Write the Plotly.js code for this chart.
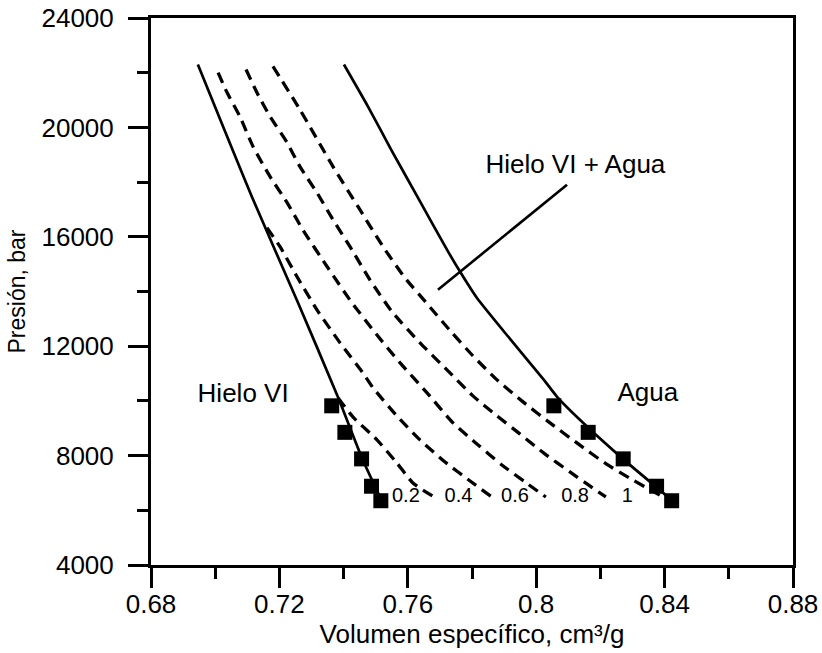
<!DOCTYPE html>
<html>
<head>
<meta charset="utf-8">
<script src="https://cdn.plot.ly/plotly-3.0.1.min.js"></script>
<style>html,body{margin:0;padding:0;background:#fff;}#chart{width:822px;height:653px;}</style>
</head>
<body>
<div id="chart"></div>
<script>
// Ice VI boundary (solid)
const iceV = [0.6946, 0.7118, 0.7258, 0.7382, 0.7457, 0.7513];
const iceP = [22300, 17360, 13590, 10150, 7920, 6490];
// Water boundary (solid)
const waterV = [0.7401, 0.7476, 0.7548, 0.7635, 0.7722, 0.7763, 0.7815, 0.7921, 0.8024, 0.8065, 0.8136, 0.8270, 0.8370, 0.8410];
const waterP = [22300, 20760, 19190, 17360, 15530, 14720, 13770, 12230, 10770, 10150, 9310, 7880, 6890, 6490];
// Dashed lines (fractions)
const f02V = [0.7383, 0.7429, 0.7504, 0.7566, 0.7616, 0.7682];
const f02P = [10110, 9415, 8573, 7731, 6999, 6487];
const f04V = [0.7161, 0.7202, 0.7255, 0.7317, 0.7389, 0.7460, 0.7492, 0.7563, 0.7638, 0.7716, 0.7794, 0.7862];
const f04P = [16332, 15637, 14539, 13331, 12123, 11025, 10476, 9488, 8573, 7768, 7073, 6487];
const f06V = [0.7009, 0.7037, 0.7077, 0.7118, 0.7171, 0.7224, 0.7273, 0.7351, 0.7426, 0.7501, 0.7576, 0.7660, 0.7741, 0.7819, 0.7893, 0.7965, 0.8030];
const f06P = [22005, 21273, 20395, 19297, 18199, 17247, 16259, 14868, 13587, 12452, 11391, 10293, 9195, 8391, 7658, 7036, 6487];
const f08V = [0.7096, 0.7130, 0.7171, 0.7224, 0.7264, 0.7317, 0.7367, 0.7420, 0.7482, 0.7551, 0.7638, 0.7722, 0.7803, 0.7878, 0.7949, 0.8027, 0.8105, 0.8167, 0.8217];
const f08P = [22115, 21273, 20395, 19443, 18565, 17613, 16625, 15637, 14429, 13258, 12123, 11135, 10184, 9452, 8793, 8061, 7402, 6890, 6487];
const f10V = [0.7180, 0.7264, 0.7367, 0.7445, 0.7523, 0.7591, 0.7663, 0.7735, 0.7803, 0.7878, 0.7959, 0.8043, 0.8131, 0.8218, 0.8301, 0.8401];
const f10P = [22230, 20650, 18565, 17101, 15637, 14502, 13514, 12526, 11647, 10769, 9964, 9195, 8427, 7695, 7109, 6451];
// Experimental points
const sqP = [9820, 8850, 7880, 6880, 6350];
const iceSqV = [0.7363, 0.7404, 0.7456, 0.7487, 0.7516];
const waterSqV = [0.8055, 0.8162, 0.8271, 0.8375, 0.8422];
// Leader line
const leaderV = [0.7694, 0.8096];
const leaderP = [14063, 17906];
// Labels
const fracLabels = ['0.2', '0.4', '0.6', '0.8', '1'];
const fracLabelV = [0.7594, 0.7758, 0.7934, 0.8121, 0.8284];
const fracLabelP = [6487, 6487, 6487, 6487, 6487];
const regionLabels = ['Hielo VI', 'Agua', 'Hielo VI + Agua'];
const regionV = [0.7087, 0.8348, 0.8122];
const regionP = [10184, 10220, 18565];
// Ticks
const xTickVals = [0.68, 0.72, 0.76, 0.80, 0.84, 0.88];
const xTickText = ['0.68', '0.72', '0.76', '0.8', '0.84', '0.88'];
const yTickVals = [4000, 8000, 12000, 16000, 20000, 24000];
const yTickText = ['4000', '8000', '12000', '16000', '20000', '24000'];

const FONT = 'Liberation Sans, Arial, sans-serif';
const solid = {color: '#000', width: 2.7, shape: 'spline', smoothing: 0.6};
const dashed = {color: '#000', width: 3.3, dash: '11px,7px', shape: 'spline', smoothing: 0.6};

const traces = [
  {x: iceV, y: iceP, mode: 'lines', line: solid},
  {x: waterV, y: waterP, mode: 'lines', line: solid},
  {x: f02V, y: f02P, mode: 'lines', line: dashed},
  {x: f04V, y: f04P, mode: 'lines', line: dashed},
  {x: f06V, y: f06P, mode: 'lines', line: dashed},
  {x: f08V, y: f08P, mode: 'lines', line: dashed},
  {x: f10V, y: f10P, mode: 'lines', line: dashed},
  {x: leaderV, y: leaderP, mode: 'lines', line: {color: '#000', width: 2.6}},
  {x: iceSqV, y: sqP, mode: 'markers', marker: {symbol: 'square', size: 15, color: '#000'}},
  {x: waterSqV, y: sqP, mode: 'markers', marker: {symbol: 'square', size: 15, color: '#000'}},
  {x: fracLabelV, y: fracLabelP, mode: 'text', text: fracLabels, textposition: 'middle center',
   textfont: {family: FONT, size: 20, color: '#000'}},
  {x: regionV, y: regionP, mode: 'text', text: regionLabels, textposition: 'middle center',
   textfont: {family: FONT, size: 26, color: '#000'}}
];

const axisCommon = {
  showgrid: false, zeroline: false, showline: true, linecolor: '#000', linewidth: 3,
  mirror: true, ticks: 'outside', ticklen: 20, tickwidth: 3, tickcolor: '#000',
  tickfont: {family: FONT, size: 26, color: '#000'}
};

const layout = {
  width: 822, height: 653,
  margin: {l: 151, r: 29, t: 18, b: 88},
  paper_bgcolor: '#fff', plot_bgcolor: '#fff',
  showlegend: false,
  xaxis: Object.assign({}, axisCommon, {
    range: [0.68, 0.88], tickmode: 'array', tickvals: xTickVals, ticktext: xTickText,
    minor: {dtick: 0.02, tick0: 0.68, ticks: 'outside', ticklen: 11, tickwidth: 3, tickcolor: '#000', showgrid: false},
    ticklabelstandoff: -6,
    title: {text: 'Volumen específico, cm³/g', font: {family: FONT, size: 26, color: '#000'}, standoff: 4},
    automargin: false
  }),
  yaxis: Object.assign({}, axisCommon, {
    range: [4000, 24000], tickmode: 'array', tickvals: yTickVals, ticktext: yTickText,
    minor: {dtick: 2000, tick0: 4000, ticks: 'outside', ticklen: 11, tickwidth: 3, tickcolor: '#000', showgrid: false},
    ticklabelstandoff: 9,
    title: {text: 'Presión, bar', font: {family: FONT, size: 23, color: '#000'}, standoff: 10},
    automargin: false
  })
};

Plotly.newPlot('chart', traces, layout, {staticPlot: true, displayModeBar: false});
</script>
</body>
</html>
